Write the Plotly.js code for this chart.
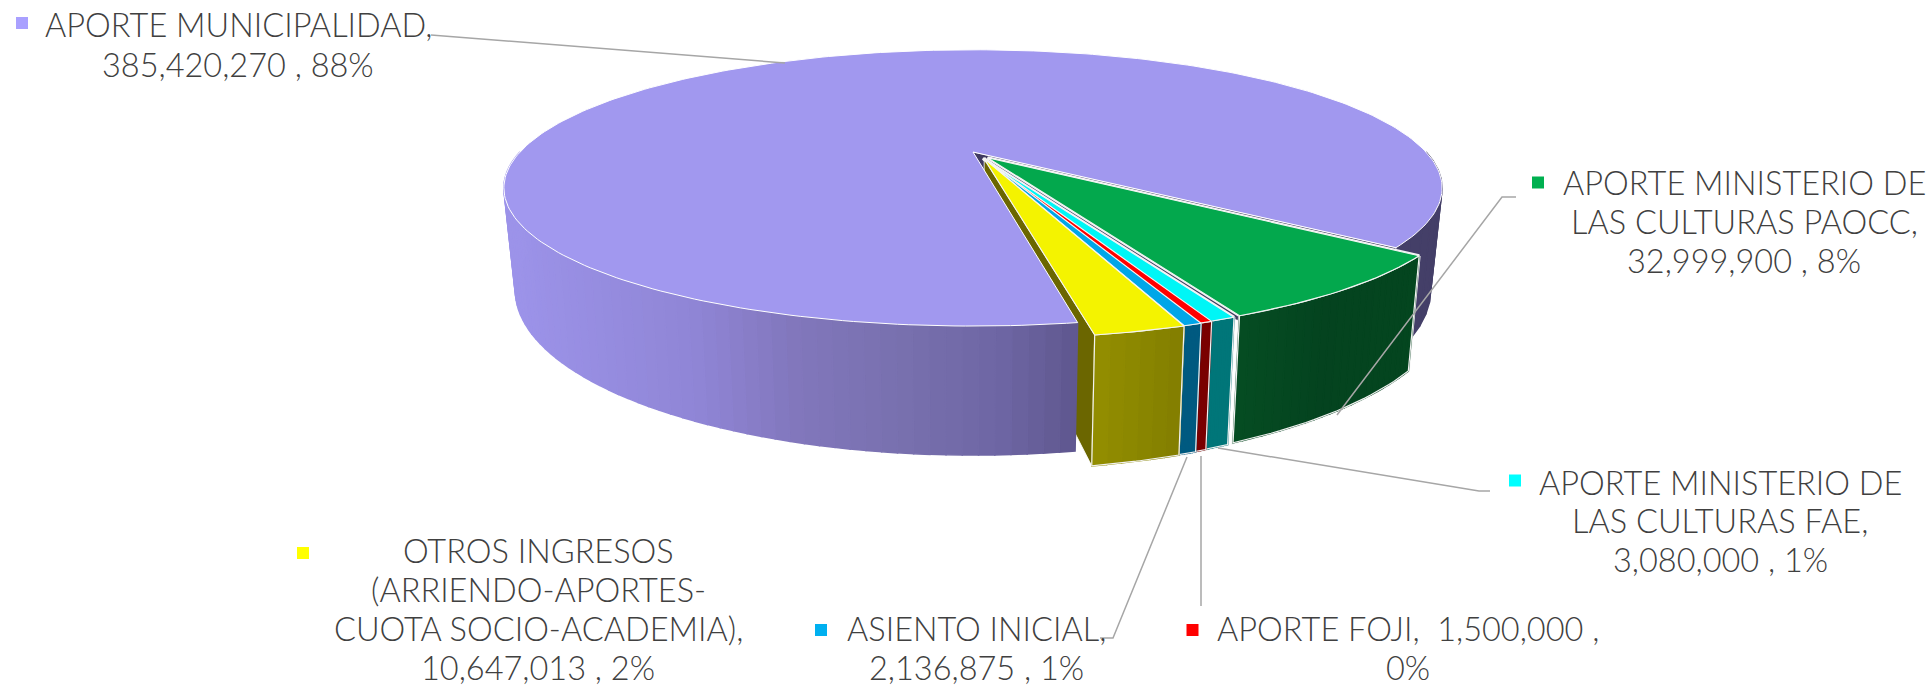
<!DOCTYPE html>
<html>
<head>
<meta charset="utf-8">
<script src="https://cdn.plot.ly/plotly-3.0.1.min.js"></script>
<style>html,body{margin:0;padding:0;background:#fff}#chart{width:1931px;height:688px}</style>
</head>
<body>
<div id="chart"></div>
<script>
// ---- chart values
const categories = ["APORTE MINISTERIO DE LAS CULTURAS PAOCC","APORTE MINISTERIO DE LAS CULTURAS FAE","APORTE FOJI","ASIENTO INICIAL","OTROS INGRESOS (ARRIENDO-APORTES-CUOTA SOCIO-ACADEMIA)","APORTE MUNICIPALIDAD"];
const values = [32999900, 3080000, 1500000, 2136875, 10647013, 385420270];
const percents = ["8%","1%","0%","1%","2%","88%"];
const topColors = ["#03a84d","#00f6f6","#ff0000","#00a6e8","#f4f300","#a198ef"];
const keyColors = ["#00b050","#00ffff","#ff0000","#00b0f0","#ffff00","#a9a0ff"];
const wallColors = ["#04461f","#007679","#7a0000","#005a80","#8c8700","#6e66a4"];
const fmt = v => v.toLocaleString("en-US");
const labelLines = [
  ["APORTE MINISTERIO DE","LAS CULTURAS PAOCC,",fmt(values[0])+" , "+percents[0]],
  ["APORTE MINISTERIO DE","LAS CULTURAS FAE,",fmt(values[1])+" , "+percents[1]],
  ["APORTE FOJI,  "+fmt(values[2])+" ,",percents[2]],
  ["ASIENTO INICIAL,",fmt(values[3])+" , "+percents[3]],
  ["OTROS INGRESOS","(ARRIENDO-APORTES-","CUOTA SOCIO-ACADEMIA),",fmt(values[4])+" , "+percents[4]],
  ["APORTE MUNICIPALIDAD,",fmt(values[5])+" , "+percents[5]]
];
// label placement: centre x, then the centre y of each line; key x,y
const labelX = [1744,1720,1408,976,538,238];
const labelY = [[182.5,221.5,260],[482,520.5,559],[628,667],[628,667],[550,589,628,667],[24.5,64]];
const keyX = [1538,1515,1192.5,821,303,22];
const keyY = [182.5,480.5,630,630,553,23];
const leaders = [
  [[1516,1502,1337],[197,197,415]],
  [[1490,1479,1218],[491,491,448]],
  [[1201,1201],[456,606]],
  [[1100,1113,1187],[638,638,457]],
  [],
  [[431,785],[35,63]]
];

// ---- projection of the tilted pie
const startDeg = 38.5, explode = 0.05, k = 0.26;
const sliceShiftU = [0.001,0.002,0.005,0.008,0.012], sliceShiftV = 0.004;
const top_ = {cx:973, cy:152, a:128.8, b:453};
const bot_ = {cx:973, cy:247, a:154, b:442};
function proj(u,v,p){const w=1-k*v; return [p.cx+p.b*u/w, p.cy+p.a*v/w];}
const total = values.reduce((s,v)=>s+v,0);
let acc = startDeg;
const slices = values.map((v,i)=>{const a0=acc; acc+=v/total*360; return {i,a0,a1:acc};});
const rad = d=>d*Math.PI/180;
function shift(s){const m=rad((s.a0+s.a1)/2); return [explode*Math.cos(m)+sliceShiftU[s.i],explode*Math.sin(m)+sliceShiftV];}
function rimPt(ang,off,p){return proj(Math.cos(rad(ang))+off[0],Math.sin(rad(ang))+off[1],p);}
function arc(a0,a1,off,p,n){const r=[];for(let j=0;j<=n;j++){r.push(rimPt(a0+(a1-a0)*j/n,off,p));}return r;}
const traces=[];
function poly(pts,fill,lineColor,lineW){
  const x=pts.map(q=>q[0]).concat(pts[0][0]), y=pts.map(q=>q[1]).concat(pts[0][1]);
  traces.push({type:"scatter",mode:"lines",x,y,fill:"toself",fillcolor:fill,line:{color:lineColor||fill,width:lineW===undefined?1.5:lineW},hoverinfo:"skip",showlegend:false});
}
function hexMix(a,b,t){const c=s=>[1,3,5].map(i=>parseInt(s.substr(i,2),16));const A=c(a),B=c(b);
  return "rgb("+A.map((q,i)=>Math.round(q+(B[i]-q)*t)).join(",")+")";}
function ramp(stops,x){ if(x<=stops[0][0])return stops[0][1];
  for(let i=1;i<stops.length;i++){ if(x<=stops[i][0]) return hexMix(stops[i-1][1],stops[i][1],(x-stops[i-1][0])/(stops[i][0]-stops[i-1][0])); }
  return stops[stops.length-1][1];}
function wall(a0,a1,off,colorAt,n){
  for(let j=0;j<n;j++){
    const s0=a0+(a1-a0)*j/n, s1=a0+(a1-a0)*(j+1)/n;
    const A=rimPt(s0,off,top_),B=rimPt(s1,off,top_),C=rimPt(s1,off,bot_),D=rimPt(s0,off,bot_);
    poly([A,B,C,D],colorAt((A[0]+B[0]+C[0]+D[0])/4));
  }
}
function face(ang,off,fill){
  poly([proj(off[0],off[1],top_),rimPt(ang,off,top_),rimPt(ang,off,bot_),proj(off[0],off[1],bot_)],fill,"#ffffff",0.8);
}
const purple=slices[5], yellow=slices[4];
purple.i=5; sliceShiftU[5]=0;
const purpleStops=[[515,"#9c93e9"],[700,"#8f85d5"],[790,"#8277bd"],[900,"#7870ae"],[1000,"#6e66a4"],[1075,"#5f578f"],[1100,"#5c548a"]];
// parts behind the pie
wall(0,startDeg,[0,0],()=>"#443f68",10);
face(startDeg,[0,0],"#3f3a60");
face(yellow.a1,shift(yellow),"#6b6600");
// main slice
wall(yellow.a1,180,[0,0],x=>ramp(purpleStops,x),64);
poly([proj(0,0,top_)].concat(arc(purple.a0,purple.a1,[0,0],top_,300)),topColors[5],"#ffffff",1);
// pale backing for the gaps between the pulled-out slices
for(let i=0;i<4;i++){
  const s=slices[i], off=shift(s);
  poly(arc(s.a0,s.a1,off,top_,12).concat(arc(s.a1,s.a0,off,bot_,12)),"#f4f4f4","#f4f4f4",3);
  poly([proj(off[0],off[1],top_)].concat(arc(s.a0,s.a1,off,top_,12)),"#f4f4f4","#f4f4f4",3);
}
// pulled-out slices, back to front
const wallRamps=[
  x=>ramp([[1240,"#054c22"],[1320,"#04431f"],[1420,"#04461f"]],x),
  ()=>wallColors[1], ()=>wallColors[2], ()=>wallColors[3],
  x=>ramp([[1092,"#948f00"],[1182,"#827e00"]],x)
];
for(let i=0;i<5;i++){
  const s=slices[i], off=shift(s);
  const outline=arc(s.a0,s.a1,off,top_,24).concat(arc(s.a1,s.a0,off,bot_,24));
  wall(s.a0,s.a1,off,wallRamps[i],i===0?24:6);
  poly(outline,"rgba(0,0,0,0)","#f2f2f2",1.2);
  poly([proj(off[0],off[1],top_)].concat(arc(s.a0,s.a1,off,top_,24)),topColors[i],"#f4f4f4",1.1);
}
// leader lines
leaders.forEach(l=>{ if(l.length) traces.push({type:"scatter",mode:"lines",x:l[0],y:l[1],line:{color:"#a6a6a6",width:1.5},hoverinfo:"skip",showlegend:false}); });
// legend keys
traces.push({type:"scatter",mode:"markers",x:keyX,y:keyY,marker:{symbol:"square",size:12,color:keyColors,line:{width:0}},hoverinfo:"skip",showlegend:false});
// labels
const annotations=[];
labelLines.forEach((lines,i)=>lines.forEach((t,j)=>annotations.push({
  x:labelX[i],y:labelY[i][j],xref:"x",yref:"y",text:t,showarrow:false,xanchor:"center",yanchor:"middle",borderpad:0,
  font:{family:"Lato, 'Open Sans', sans-serif",size:32.5,color:"#404040",weight:300}})));
Plotly.newPlot("chart",traces,{
  width:1931,height:688,margin:{l:0,r:0,t:0,b:0},paper_bgcolor:"#fff",plot_bgcolor:"#fff",
  xaxis:{range:[0,1931],visible:false,fixedrange:true},
  yaxis:{range:[688,0],visible:false,fixedrange:true},
  showlegend:false,annotations
},{displayModeBar:false,staticPlot:true});
</script>
</body>
</html>
